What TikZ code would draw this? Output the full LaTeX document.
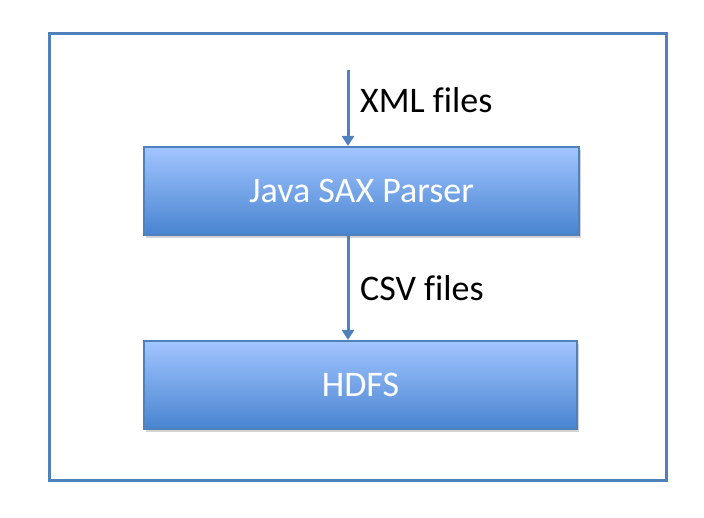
\documentclass[tikz,border=0pt]{standalone}
\usepackage{fontspec}
\setmainfont[Ligatures=NoCommon]{Carlito}
\usetikzlibrary{arrows.meta,shadows}
\definecolor{frameblue}{RGB}{79,129,189}
\definecolor{boxtop}{RGB}{162,197,255}
\definecolor{boxbottom}{RGB}{72,132,208}
\tikzset{
  stage/.style={draw=frameblue, line width=2pt, top color=boxtop, bottom color=boxbottom,
    drop shadow={shadow xshift=2pt, shadow yshift=-3pt, opacity=0.35},
    minimum width=435pt, minimum height=88pt, text=white, font=\fontsize{36}{40}\selectfont},
  flow/.style={draw=frameblue, line width=3pt, -{Triangle[width=12pt,length=10pt]}},
  tag/.style={anchor=west, inner sep=0pt, font=\fontsize{36}{40}\selectfont}
}
\begin{document}
\begin{tikzpicture}[x=1pt,y=-1pt]
\useasboundingbox (0,0) rectangle (704,518);
\draw[frameblue, line width=3pt] (49.5,33.5) rectangle (666,480); % outer frame

\node[stage] (parser) at (361.5,191) {Java SAX Parser};
\node[stage, minimum width=433pt] (hdfs) at (360.5,385) {HDFS};

\coordinate (xmlin) at (348,70);
\draw[flow] (xmlin) -- (parser.north -| xmlin);
\draw[flow] (parser.south -| xmlin) -- (hdfs.north -| xmlin);

\node[tag] (xmllabel) at (360,100) {XML files};
\node[tag] (csvlabel) at (360,288) {CSV files};
\end{tikzpicture}
\end{document}
